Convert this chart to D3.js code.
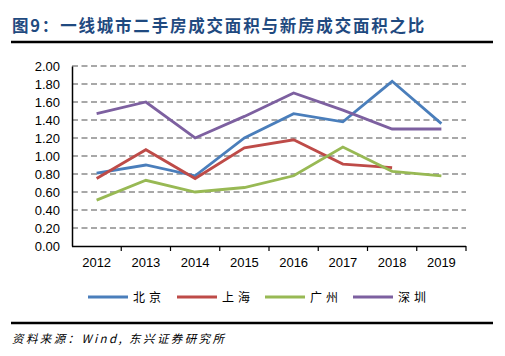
<!DOCTYPE html>
<html><head><meta charset="utf-8">
<script src="https://cdn.jsdelivr.net/npm/d3@7/dist/d3.min.js"></script>
<style>body{margin:0;background:#fff;}svg{display:block;}</style>
</head><body>
<svg id="c" width="505" height="356"></svg>
<script>
const years = ["2012","2013","2014","2015","2016","2017","2018","2019"];
const cities = ["北京","上海","广州","深圳"];
const beijing  = [0.81,0.90,0.78,1.20,1.47,1.38,1.83,1.36];
const shanghai = [0.75,1.07,0.75,1.09,1.18,0.91,0.87,null];
const guangzhou= [0.51,0.73,0.60,0.65,0.78,1.10,0.83,0.78];
const shenzhen = [1.47,1.60,1.20,1.44,1.70,1.51,1.30,1.30];
const yTicks = [0,0.2,0.4,0.6,0.8,1.0,1.2,1.4,1.6,1.8,2.0];
const colors = ["#4a7ebb","#be4b48","#98b954","#7d60a0"];
const seriesVals = [beijing, shanghai, guangzhou, shenzhen];

const svg = d3.select("#c");
const L=72, R=466, T=66, B=246;
const x = d3.scaleBand().domain(years).range([L,R]);
const y = d3.scaleLinear().domain([0,2]).range([B,T]);

// title
svg.append("text").attr("x",12).attr("y",32)
  .attr("font-family","'Noto Sans CJK SC','Liberation Sans',sans-serif")
  .attr("font-weight","bold").attr("font-size",16.5).attr("letter-spacing",1.8).attr("fill","#1f4a80")
  .text("图9：一线城市二手房成交面积与新房成交面积之比");
svg.append("line").attr("x1",11).attr("x2",493).attr("y1",42).attr("y2",42)
  .attr("stroke","#000").attr("stroke-width",2.5);

// grid
svg.append("g").selectAll("line").data(yTicks.filter(d=>d>0)).join("line")
  .attr("x1",L).attr("x2",R).attr("y1",d=>y(d)).attr("y2",d=>y(d))
  .attr("stroke","#8c8c8c").attr("stroke-width",1.3).attr("stroke-dasharray","6,3.5");

// y axis
const ya = svg.append("g").attr("transform",`translate(${L},0)`)
  .call(d3.axisLeft(y).tickValues(yTicks).tickFormat(d3.format(".2f")).tickSize(0).tickPadding(12));
ya.select(".domain").attr("stroke","#000").attr("stroke-width",1.5);
ya.selectAll("text").attr("font-family","'Liberation Sans',Arial,sans-serif").attr("font-size",13).attr("fill","#000");

// x axis
const xa = svg.append("g").attr("transform",`translate(0,${B})`)
  .call(d3.axisBottom(x).tickSize(0).tickPadding(12));
xa.select(".domain").attr("stroke","#000").attr("stroke-width",1.5).attr("d",`M${L},0.5H${R}`);
xa.selectAll("text").attr("font-family","'Liberation Sans',Arial,sans-serif").attr("font-size",13).attr("fill","#000");
svg.append("g").selectAll("line").data(years).join("line")
  .attr("x1",d=>x(d)+x.bandwidth()).attr("x2",d=>x(d)+x.bandwidth())
  .attr("y1",B).attr("y2",B+5).attr("stroke","#000").attr("stroke-width",1.2);

// lines
const line = d3.line().defined(d=>d.v!=null).x(d=>x(d.yr)+x.bandwidth()/2).y(d=>y(d.v));
seriesVals.forEach((vals,i)=>{
  svg.append("path").datum(vals.map((v,j)=>({yr:years[j],v})))
    .attr("d",line).attr("fill","none").attr("stroke",colors[i])
    .attr("stroke-width",2.8).attr("stroke-linejoin","miter");
});

// legend
const lx = [88,177,265,353];
cities.forEach((c,i)=>{
  svg.append("line").attr("x1",lx[i]).attr("x2",lx[i]+40).attr("y1",297).attr("y2",297)
    .attr("stroke",colors[i]).attr("stroke-width",2.8);
  svg.append("text").attr("x",lx[i]+45).attr("y",301.5)
    .attr("font-family","'Noto Sans CJK SC',sans-serif").attr("font-size",12)
    .attr("letter-spacing",4).attr("fill","#000").text(c);
});

svg.append("line").attr("x1",11).attr("x2",493).attr("y1",323).attr("y2",323)
  .attr("stroke","#000").attr("stroke-width",2.5);
svg.append("text").attr("x",12).attr("y",343)
  .attr("font-family","'Noto Sans CJK SC',sans-serif").attr("font-size",11.5)
  .attr("font-style","italic").attr("letter-spacing",2.4).attr("fill","#000")
  .text("资料来源：Wind, 东兴证券研究所");
</script>
</body></html>
